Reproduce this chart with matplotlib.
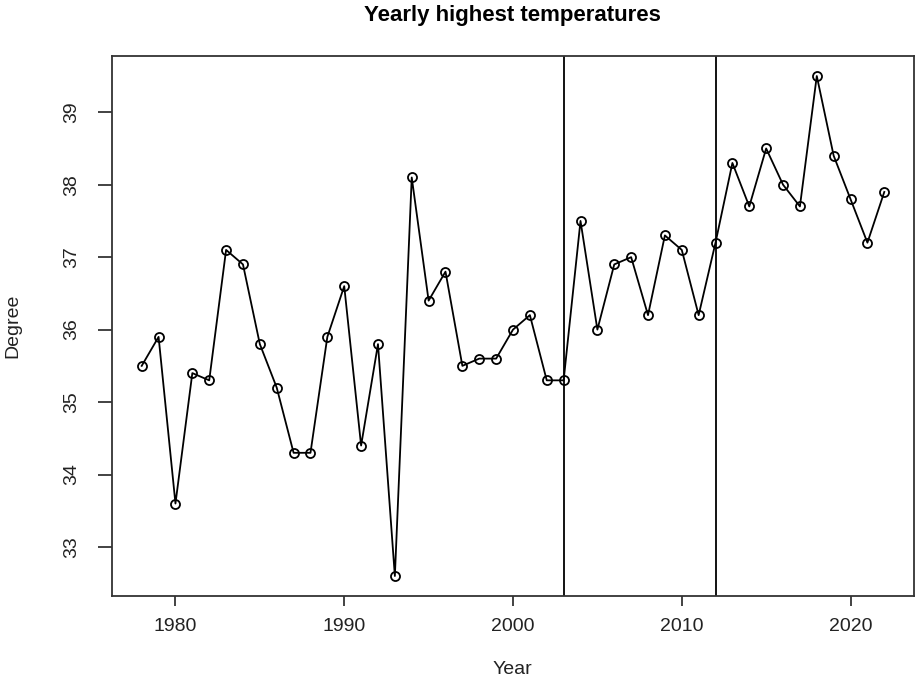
import numpy as np
import matplotlib
matplotlib.use('Agg')
from matplotlib import pyplot as plt

plt.rcParams['font.family'] = ['Liberation Sans', 'DejaVu Sans']

years = list(range(1978, 2023))
temps = [35.5, 35.9, 33.6, 35.4, 35.3, 37.1, 36.9, 35.8, 35.2, 34.3,
         34.3, 35.9, 36.6, 34.4, 35.8, 32.6, 38.1, 36.4, 36.8, 35.5,
         35.6, 35.6, 36.0, 36.2, 35.3, 35.3, 37.5, 36.0, 36.9, 37.0,
         36.2, 37.3, 37.1, 36.2, 37.2, 38.3, 37.7, 38.5, 38.0, 37.7,
         39.5, 38.4, 37.8, 37.2, 37.9]
break_years = [2003, 2012]
xticks = [1980, 1990, 2000, 2010, 2020]
yticks = [33, 34, 35, 36, 37, 38, 39]

W, H = 916, 680
fig = plt.figure(figsize=(W / 100, H / 100), dpi=100)
ax = fig.add_axes([112 / W, 84 / H, 802 / W, 540 / H])

ax.plot(years, temps, color='black', lw=1.3, marker='o', ms=6.5,
        mfc='none', mec='black', mew=1.3)
for yr in break_years:
    ax.axvline(yr, color='black', lw=1.3)

# R style 4% padding
xr = years[-1] - years[0]
ax.set_xlim(years[0] - 0.04 * xr, years[-1] + 0.04 * xr)
yr_ = max(temps) - min(temps)
ax.set_ylim(min(temps) - 0.04 * yr_, max(temps) + 0.04 * yr_)

ax.set_xticks(xticks)
ax.set_yticks(yticks)
ax.set_yticklabels([str(t) for t in yticks], rotation=90, va='center')
ax.tick_params(direction='out', width=1.2, labelsize=14, colors='#222222')
ax.tick_params(axis='x', length=7.5, pad=8)
ax.tick_params(axis='y', length=10, pad=13)
for s in ax.spines.values():
    s.set_linewidth(1.3)
    s.set_color('#333333')

fig.text(512 / W, 1 - 15 / H, 'Yearly highest temperatures', ha='center',
         va='center', fontsize=16, fontweight='bold')
fig.text(512 / W, 1 - 670 / H, 'Year', ha='center', va='center',
         fontsize=14, color='#222222')
fig.text(13 / W, 1 - 326 / H, 'Degree', ha='center', va='center',
         fontsize=14, rotation=90, color='#222222')

fig.savefig('out.png', dpi=100)
